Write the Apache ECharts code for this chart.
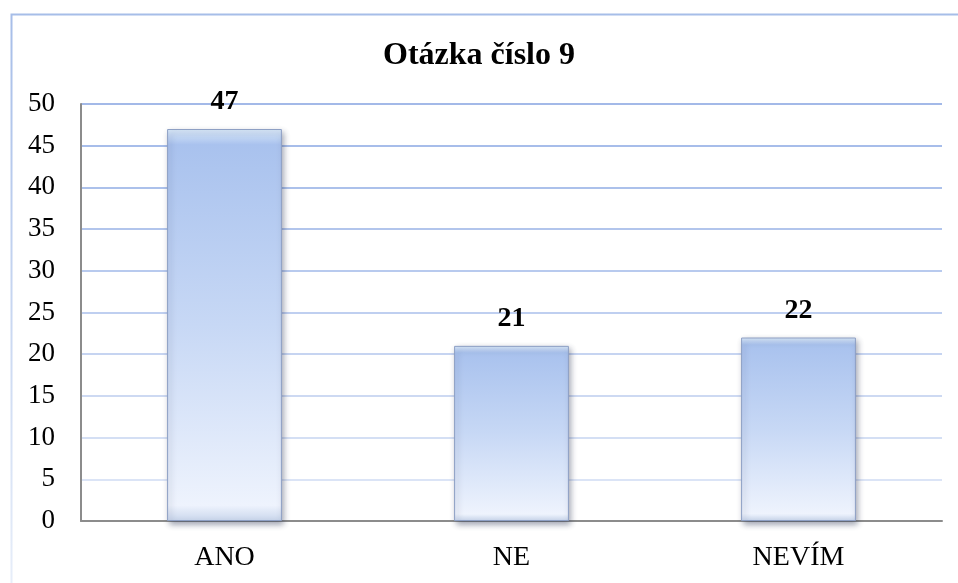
<!DOCTYPE html>
<html>
<head>
<meta charset="utf-8">
<script src="https://cdn.jsdelivr.net/npm/echarts@6/dist/echarts.min.js"></script>
<style>
html, body { margin: 0; padding: 0; background: #fff; }
#chart { width: 958px; height: 583px; }
</style>
</head>
<body>
<div id="chart"></div>
<script>
var categories = ['ANO', 'NE', 'NEVÍM'];
var values = [47, 21, 22];
var titleText = 'Otázka číslo 9';

var myChart = echarts.init(document.getElementById('chart'));

var serif = '"Liberation Serif", "DejaVu Serif", serif';

var option = {
	backgroundColor: '#ffffff',
	title: {
		text: titleText,
		left: 'center',
		top: 35,
		textStyle: { fontFamily: serif, fontSize: 32, fontWeight: 'bold', color: '#000' }
	},
	graphic: [{
		type: 'rect',
		shape: { x: 11.5, y: 14.5, width: 1000, height: 700 },
		style: {
			fill: 'none',
			lineWidth: 2,
			stroke: new echarts.graphic.LinearGradient(0, 0, 0, 1, [
				{ offset: 0, color: '#a6bde8' },
				{ offset: 0.8, color: '#e6edf9' },
				{ offset: 1, color: '#f2f5fc' }
			])
		},
		z: -1,
		silent: true
	}],
	grid: { left: 81, right: 16, top: 104, bottom: 62 },
	xAxis: {
		type: 'category',
		data: categories,
		axisLine: { lineStyle: { color: '#8c8c8c', width: 2 } },
		axisTick: { show: false },
		axisLabel: { fontFamily: serif, fontSize: 28, color: '#000', margin: 23 }
	},
	yAxis: {
		type: 'value',
		min: 0,
		max: 50,
		interval: 5,
		axisLine: { show: true, lineStyle: { color: '#8c8c8c', width: 2 } },
		axisTick: { show: false },
		axisLabel: { fontFamily: serif, fontSize: 27, color: '#000', margin: 26 },
		splitLine: {
			lineStyle: {
				width: 2,
				color: ['#e2e9f7', '#dbe4f6', '#d4dff4', '#cdd9f2', '#c6d4f1', '#bfcff0', '#b8caee', '#b2c5ec', '#acc1eb', '#a7bdea', '#a3b9e8']
			}
		}
	},
	series: [{
		type: 'bar',
		data: values,
		barWidth: '40%',
		itemStyle: {
			color: new echarts.graphic.LinearGradient(0, 0, 0, 1, [
				{ offset: 0, color: '#dcebfb' },
				{ offset: 0.04, color: '#a9c2ee' },
				{ offset: 0.5, color: '#c7d8f5' },
				{ offset: 0.96, color: '#eef3fd' },
				{ offset: 1, color: '#c9d6ec' }
			]),
			borderColor: '#8d9fc4',
			borderWidth: 1,
			shadowColor: 'rgba(40, 50, 80, 0.45)',
			shadowBlur: 6,
			shadowOffsetX: 2,
			shadowOffsetY: 3
		},
		label: {
			show: true,
			position: 'top',
			distance: 13,
			fontFamily: serif,
			fontSize: 28,
			fontWeight: 'bold',
			color: '#000'
		}
	}]
};

myChart.setOption(option);
</script>
</body>
</html>
